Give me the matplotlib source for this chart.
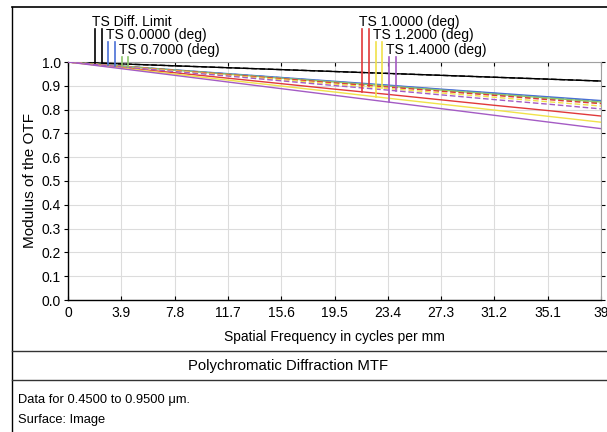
import numpy as np
import matplotlib.pyplot as plt
from matplotlib.lines import Line2D

plt.rcParams['font.family'] = ['Liberation Sans', 'DejaVu Sans']

# spatial frequencies (cycles/mm) and tick labels
freq = [0, 3.9, 7.8, 11.7, 15.6, 19.5, 23.4, 27.3, 31.2, 35.1, 39]
x_labels = ["0", "3.9", "7.8", "11.7", "15.6", "19.5", "23.4", "27.3", "31.2", "35.1", "39"]
y_ticks = [0.0, 0.1, 0.2, 0.3, 0.4, 0.5, 0.6, 0.7, 0.8, 0.9, 1.0]

# MTF values (T = tangential, S = sagittal)
diff_limit = [1.000, 0.992, 0.984, 0.976, 0.968, 0.960, 0.952, 0.944, 0.936, 0.928, 0.920]
f00_T = [1.000, 0.983, 0.967, 0.951, 0.935, 0.919, 0.903, 0.886, 0.870, 0.854, 0.838]
f00_S = [1.000, 0.983, 0.966, 0.950, 0.934, 0.917, 0.901, 0.884, 0.868, 0.851, 0.835]
f07_T = [1.000, 0.983, 0.966, 0.949, 0.932, 0.916, 0.899, 0.882, 0.865, 0.849, 0.832]
f07_S = [1.000, 0.982, 0.965, 0.948, 0.931, 0.914, 0.897, 0.880, 0.862, 0.845, 0.828]
f10_T = [1.000, 0.977, 0.955, 0.932, 0.909, 0.886, 0.864, 0.841, 0.818, 0.796, 0.773]
f10_S = [1.000, 0.982, 0.965, 0.947, 0.930, 0.912, 0.895, 0.877, 0.860, 0.842, 0.825]
f12_T = [1.000, 0.975, 0.949, 0.924, 0.899, 0.874, 0.848, 0.823, 0.798, 0.772, 0.747]
f12_S = [1.000, 0.981, 0.963, 0.944, 0.926, 0.907, 0.889, 0.870, 0.852, 0.833, 0.815]
f14_T = [1.000, 0.972, 0.944, 0.916, 0.888, 0.860, 0.832, 0.804, 0.776, 0.748, 0.720]
f14_S = [1.000, 0.980, 0.960, 0.941, 0.921, 0.901, 0.882, 0.862, 0.842, 0.823, 0.803]

labels = ["TS Diff. Limit", "TS 0.0000 (deg)", "TS 0.7000 (deg)",
          "TS 1.0000 (deg)", "TS 1.2000 (deg)", "TS 1.4000 (deg)"]
series_T = [diff_limit, f00_T, f07_T, f10_T, f12_T, f14_T]
series_S = [diff_limit, f00_S, f07_S, f10_S, f12_S, f14_S]
colors = ["black", "#4a6fd6", "#8cc66a", "#e0393a", "#f0e24a", "#a45bc4"]
# frequency where each legend pair is drawn
marker_freq = [1.98, 2.95, 3.93, 21.5, 22.5, 23.5]

fig = plt.figure(figsize=(6.07, 4.32), dpi=100)
ax = fig.add_axes([68/607, 1-300/432, 533/607, 238/432])

for T, S, c in zip(series_T, series_S, colors):
    ax.plot(freq, T, color=c, lw=1.0, zorder=3)
    ax.plot(freq, S, color=c, lw=1.0, ls=(0, (4, 2)), zorder=3)

# legend pairs: vertical lines from the curve up to the label rows
row_text = [1.168, 1.113, 1.050]
row_top = [1.139, 1.084, 1.021]
step = 0.49
for i, (lab, T, S, c, f0) in enumerate(zip(labels, series_T, series_S, colors, marker_freq)):
    r = i % 3
    yT = np.interp(f0, freq, T)
    yS = np.interp(f0 + step, freq, S)
    ax.plot([f0, f0], [yT, row_top[r]], color=c, lw=1.2, clip_on=False, zorder=4)
    ax.plot([f0 + step, f0 + step], [yS, row_top[r]], color=c, lw=1.2, clip_on=False, zorder=4)
    ax.text(f0 - 0.2, row_text[r], lab, fontsize=10, ha='left', va='center')

ax.set_xlim(0, 39)
ax.set_ylim(0, 1.0)
ax.set_xticks(freq)
ax.set_xticklabels(x_labels, fontsize=10)
ax.set_yticks(y_ticks)
ax.set_yticklabels([f"{v:.1f}" for v in y_ticks], fontsize=10)
ax.tick_params(axis='x', direction='in', length=3, pad=4, top=True)
ax.tick_params(axis='y', direction='out', length=3, pad=2, right=True)
ax.grid(True, color="#dcdcdc", lw=0.8)
ax.set_axisbelow(True)
for s in ['top', 'right']:
    ax.spines[s].set_color("#a0a0a0")
ax.spines['left'].set_linewidth(1.0)
ax.spines['bottom'].set_linewidth(1.0)

ax.set_xlabel("Spatial Frequency in cycles per mm", fontsize=10)
ax.xaxis.set_label_coords(0.5, -0.126)
ax.set_ylabel("Modulus of the OTF", fontsize=11)
ax.yaxis.set_label_coords(-0.058, 0.5)

# frame and info box
fig.add_artist(Line2D([12/607, 12/607], [0, 1-7/432], color="black", lw=1.0))
fig.add_artist(Line2D([12/607, 1], [1-7/432, 1-7/432], color="black", lw=1.2))
fig.add_artist(Line2D([12/607, 1], [1-351/432, 1-351/432], color="#333333", lw=1.0))
fig.add_artist(Line2D([12/607, 1], [1-380/432, 1-380/432], color="#333333", lw=1.0))
fig.text(288/607, 1-366/432, "Polychromatic Diffraction MTF", fontsize=10.7, ha='center', va='center')
fig.text(18/607, 1-400/432, "Data for 0.4500 to 0.9500 μm.", fontsize=9.3, ha='left', va='center')
fig.text(18/607, 1-420/432, "Surface: Image", fontsize=9.3, ha='left', va='center')

plt.savefig("out.png", dpi=100)
